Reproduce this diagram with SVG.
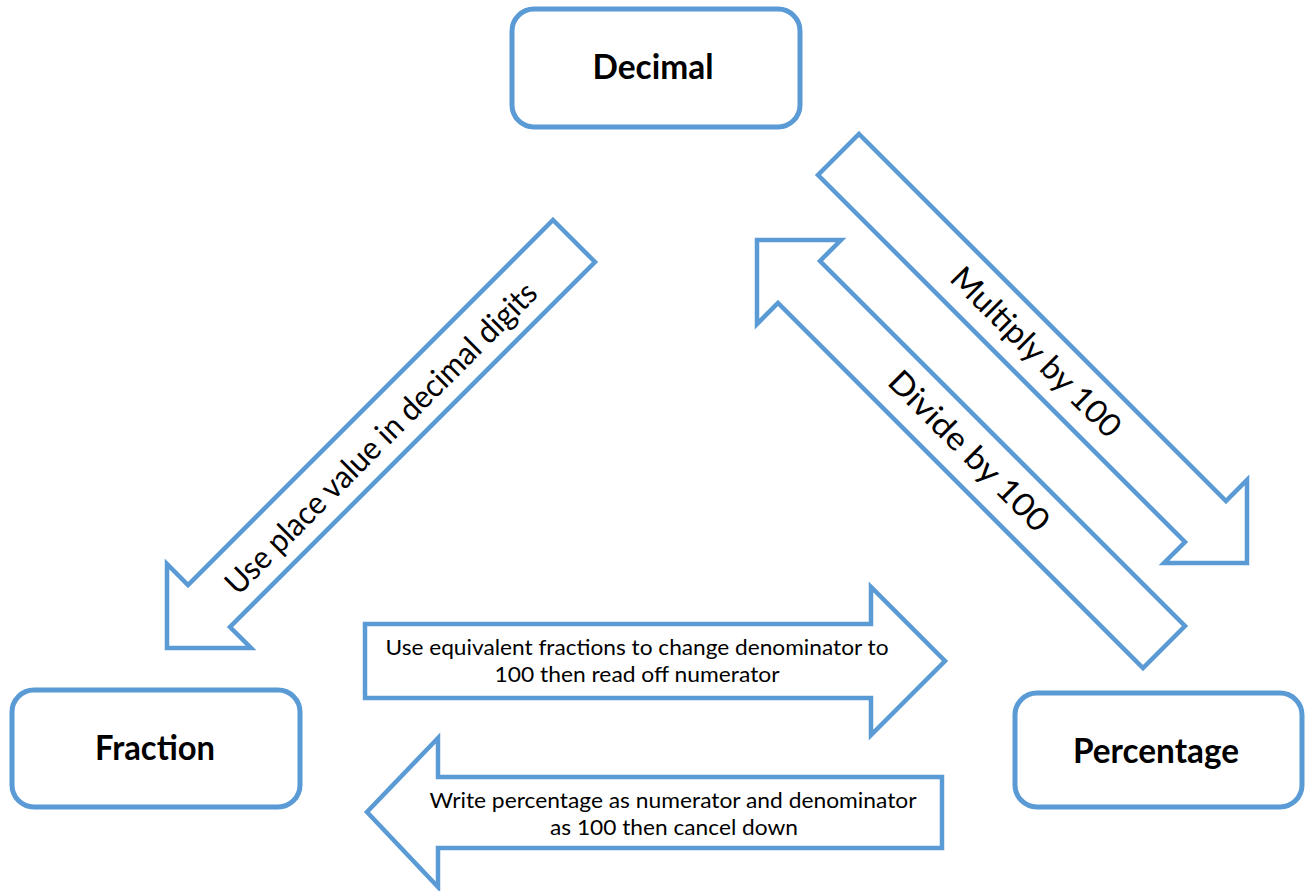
<svg xmlns="http://www.w3.org/2000/svg" width="1309" height="891" viewBox="0 0 1309 891">
<style>
.box{fill:#fff;stroke:#5B9BD5;stroke-width:5}
.arrow{fill:#fff;stroke:#5B9BD5;stroke-width:4.5;stroke-linejoin:miter}
.title{font-family:Lato,"Open Sans","Liberation Sans",sans-serif;font-weight:bold;font-size:34px;fill:#000;text-anchor:middle}
.lbl{font-family:Lato,"Open Sans","Liberation Sans",sans-serif;font-size:21px;fill:#000;text-anchor:middle}
.dlbl{font-family:Lato,"Open Sans","Liberation Sans",sans-serif;font-size:32px;fill:#000;text-anchor:middle}
</style>
<rect width="1309" height="891" fill="#fff"/>
<g id="connectors">
  <g id="decimal-to-fraction">
    <polygon class="arrow" points="553,220 595,262 230,627 251,648 167,648 167,564 188,585"/>
    <text class="dlbl" transform="translate(381,438) rotate(-45)" x="0" y="11" textLength="426" lengthAdjust="spacingAndGlyphs">Use place value in decimal digits</text>
  </g>
  <g id="decimal-to-percentage">
    <polygon class="arrow" points="859,134 1226,501 1247,480 1247,563 1164,563 1185,542 818,175"/>
    <text class="dlbl" transform="translate(1036,352) rotate(45)" x="0" y="11" textLength="226" lengthAdjust="spacingAndGlyphs">Multiply by 100</text>
  </g>
  <g id="percentage-to-decimal">
    <polygon class="arrow" points="757,240 841,240 820,261 1185,626 1143,668 778,303 757,324"/>
    <text class="dlbl" transform="translate(969,451) rotate(45)" x="0" y="11" textLength="213" lengthAdjust="spacingAndGlyphs">Divide by 100</text>
  </g>
  <g id="fraction-to-percentage">
    <polygon class="arrow" points="365,624 871,624 871,587 945,661 871,735 871,698 365,698"/>
    <text class="lbl" x="637" y="655" textLength="503" lengthAdjust="spacingAndGlyphs">Use equivalent fractions to change denominator to</text>
    <text class="lbl" x="637" y="682" textLength="285" lengthAdjust="spacingAndGlyphs">100 then read off numerator</text>
  </g>
  <g id="percentage-to-fraction">
    <polygon class="arrow" points="942,777 438,777 438,738 367,812 438,887 438,848 942,848"/>
    <text class="lbl" x="673" y="808" textLength="487" lengthAdjust="spacingAndGlyphs">Write percentage as numerator and denominator</text>
    <text class="lbl" x="674" y="835" textLength="248" lengthAdjust="spacingAndGlyphs">as 100 then cancel down</text>
  </g>
</g>
<g id="node-decimal">
  <rect class="box" x="512" y="9" width="288" height="118" rx="22"/>
  <text class="title" x="653" y="79" textLength="121" lengthAdjust="spacingAndGlyphs">Decimal</text>
</g>
<g id="node-fraction">
  <rect class="box" x="12" y="690" width="288" height="117" rx="22"/>
  <text class="title" x="155" y="760" textLength="120" lengthAdjust="spacingAndGlyphs">Fraction</text>
</g>
<g id="node-percentage">
  <rect class="box" x="1015" y="693" width="287" height="114" rx="22"/>
  <text class="title" x="1156" y="763" textLength="166" lengthAdjust="spacingAndGlyphs">Percentage</text>
</g>
</svg>
